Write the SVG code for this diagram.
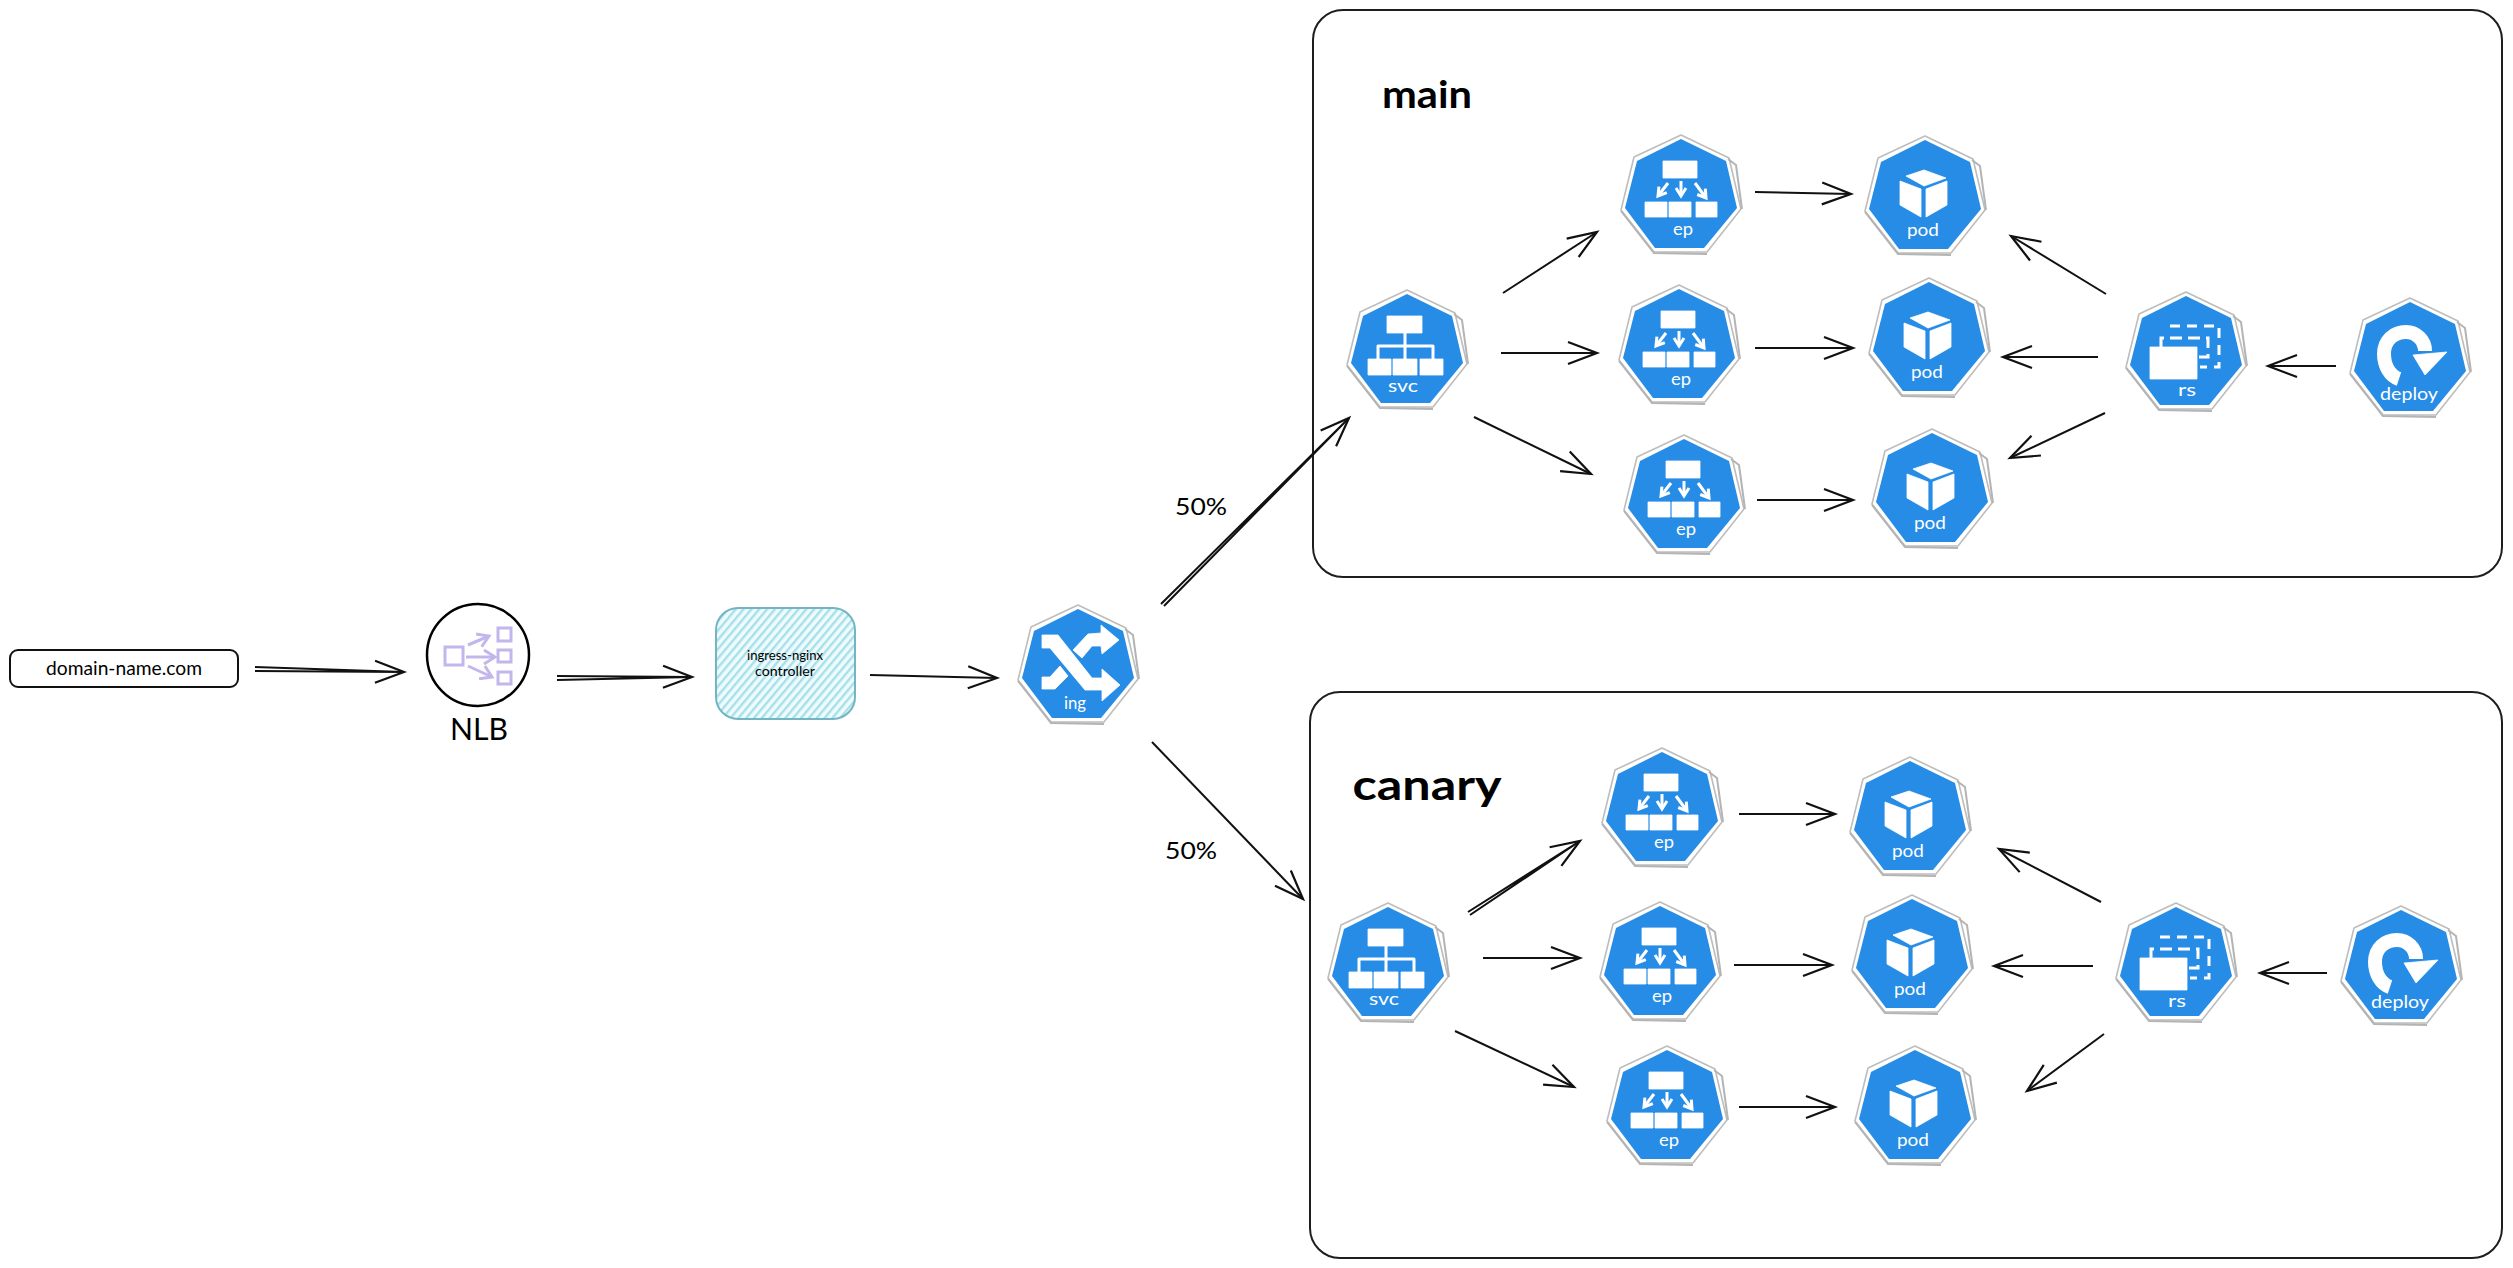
<svg xmlns="http://www.w3.org/2000/svg" xmlns:xlink="http://www.w3.org/1999/xlink" width="2513" height="1268" viewBox="0 0 2513 1268">
<style>
text{font-family:"Lato","Open Sans",sans-serif;text-anchor:middle}
.dark{fill:#000}
.lab{fill:#fff;font-size:18px}
.conn path{fill:none;stroke:#111;stroke-width:2;marker-end:url(#head)}
.box{fill:none;stroke:#1e1e1e;stroke-width:2}
.w{fill:#fff;stroke:#fff;stroke-width:.8;stroke-linejoin:round}
.wl{fill:none;stroke:#fff;stroke-width:3;stroke-linecap:round;stroke-linejoin:round}
.pur{fill:none;stroke:#c2b6ec;stroke-width:3}
</style>
<defs>
<marker id="head" markerUnits="userSpaceOnUse" markerWidth="40" markerHeight="40" viewBox="-32 -20 40 40" refX="0" refY="0" orient="auto">
<path d="M-29,-11 L0,0 L-29,11" fill="none" stroke="#111" stroke-width="2.2"/>
</marker>
<marker id="smallhead" markerUnits="userSpaceOnUse" markerWidth="16" markerHeight="16" viewBox="-12 -8 16 16" refX="0" refY="0" orient="auto">
<path d="M-8,-5 L0,0 L-8,5" fill="none" stroke="#fff" stroke-width="3"/>
</marker>
<marker id="pur" markerUnits="userSpaceOnUse" markerWidth="20" markerHeight="20" viewBox="-14 -10 20 20" refX="0" refY="0" orient="auto">
<path d="M-11,-7 L0,0 L-11,7" fill="none" stroke="#c2b6ec" stroke-width="3"/>
</marker>
<pattern id="hatch" patternUnits="userSpaceOnUse" width="6" height="6" patternTransform="rotate(-50)">
<rect width="6" height="6" fill="#f0fbfd"/>
<rect width="6" height="2.4" fill="#a6e0ea"/>
</pattern>
<g id="hept">
<path d="M0,-60 L48,-37 L60,14 L26,57 L-27,57 L-60,15 L-47,-38Z" fill="#fff" stroke="#bdbdbd" stroke-width="1.6" stroke-linejoin="round"/>
<path d="M47,-36 L55,-30 L61,14 M-60,16 L-27,58 L26,59" fill="none" stroke="#b4b4b4" stroke-width="2"/>
<path d="M0,-56 L45,-34 L56,13 L23,53 L-26,53 L-56,13 L-44,-34Z" fill="#268ce6"/>
</g>
<g id="i-svc">
<rect class="w" x="-20" y="-34" width="35" height="17"/>
<path class="wl" d="M-2,-17 V10 M-29,10 V-4 H26 V10"/>
<rect class="w" x="-39" y="9" width="23" height="16"/>
<rect class="w" x="-14" y="9" width="24" height="16"/>
<rect class="w" x="13" y="9" width="23" height="16"/>
</g>
<g id="i-ep">
<rect class="w" x="-18" y="-34" width="34" height="17"/>
<path d="M-13,-12 L-23,1" fill="none" stroke="#fff" stroke-width="3" marker-end="url(#smallhead)"/>
<path d="M0,-14 V1" fill="none" stroke="#fff" stroke-width="3" marker-end="url(#smallhead)"/>
<path d="M14,-12 L25,3" fill="none" stroke="#fff" stroke-width="3" marker-end="url(#smallhead)"/>
<rect class="w" x="-36" y="7" width="22" height="15"/>
<rect class="w" x="-12" y="7" width="22" height="15"/>
<rect class="w" x="15" y="7" width="21" height="15"/>
</g>
<g id="i-pod">
<path class="w" d="M-19,-20 L-1,-26 L21,-18 L-1,-10Z"/>
<path class="w" d="M-25,-15 L-4,-7 L-4,21 L-25,9Z"/>
<path class="w" d="M1,-7 L22,-15 L22,9 L1,21Z"/>
</g>
<g id="i-rs">
<path d="M-16,-26 H33 V15 H14" fill="none" stroke="#fff" stroke-width="3" stroke-dasharray="10 7"/>
<path d="M-25,-5 V-14 H22 V5 H12" fill="none" stroke="#fff" stroke-width="3" stroke-dasharray="12 6"/>
<rect class="w" x="-36" y="-5" width="47" height="32"/>
</g>
<g id="i-deploy">
<path d="M-11,25 C-26,22 -33,10 -33,-4 C-33,-22 -20,-32 -4,-32 C8,-32 20,-22 18,-6" fill="none" stroke="none"/>
<path d="M-11,21 C-20,18 -26,8 -26,-4 C-26,-18 -16,-26 -4,-26 C6,-26 15,-18 15,-7" fill="none" stroke="#fff" stroke-width="14"/>
<path class="w" d="M3,-3 L37,-6 L15,17Z"/>
</g>
<g id="i-ing">
<path class="w" d="M-36,-30 L-20,-30 L14,13 L24,13 L24,4 L42,20 L24,36 L24,25 L7,25 L-28,-17 L-36,-17Z"/>
<path class="w" d="M-36,12 L-28,12 L-18,1 L-10,11 L-23,24 L-36,24Z"/>
<path class="w" d="M-5,-15 L10,-31 L23,-32 L23,-40 L41,-25 L24,-11 L23,-19 L14,-19 L4,-7Z"/>
</g>
</defs>

<rect width="2513" height="1268" fill="#fff"/>

<g id="group-main"><rect class="box" x="1313" y="10" width="1189" height="567" rx="30"/><text class="dark" x="1427" y="108" font-size="38" font-weight="700" textLength="90" lengthAdjust="spacingAndGlyphs">main</text></g>
<g id="group-canary"><rect class="box" x="1310" y="692" width="1192" height="566" rx="30"/><text class="dark" x="1427" y="800" font-size="42" font-weight="700" textLength="149" lengthAdjust="spacingAndGlyphs">canary</text></g>

<g id="connectors" class="conn">
<path d="M255,667 L404,672 M255,671 L404,672"/>
<path d="M557,680 L692,677 M557,676 L692,677"/>
<path d="M870,675 L997,678"/>
<path d="M1164,606 L1349,418 M1161,604 L1349,418"/>
<path d="M1152,742 L1303,899"/>
<path d="M1503,293 L1597,232"/>
<path d="M1501,353 L1597,353"/>
<path d="M1474,417 L1591,474"/>
<path d="M1755,192 L1851,194"/>
<path d="M1755,348 L1853,348"/>
<path d="M1757,500 L1853,500"/>
<path d="M2106,294 L2011,236"/>
<path d="M2098,357 L2003,357"/>
<path d="M2105,413 L2010,458"/>
<path d="M2336,366 L2268,366"/>
<path d="M1470,915 L1580,841 M1468,912 L1580,841"/>
<path d="M1483,958 L1580,958"/>
<path d="M1455,1031 L1574,1087"/>
<path d="M1739,814 L1835,814"/>
<path d="M1734,965 L1832,965"/>
<path d="M1739,1107 L1835,1107"/>
<path d="M2101,902 L1999,849"/>
<path d="M2093,966 L1994,966"/>
<path d="M2104,1034 L2027,1091"/>
<path d="M2327,973 L2260,973"/>
</g>

<g id="label-50-main"><text class="dark" x="1201" y="515" font-size="24" textLength="52" lengthAdjust="spacingAndGlyphs">50%</text></g>
<g id="label-50-canary"><text class="dark" x="1191" y="859" font-size="24" textLength="52" lengthAdjust="spacingAndGlyphs">50%</text></g>

<g id="domain"><rect x="10" y="650" width="228" height="37" rx="8" fill="#fff" stroke="#111" stroke-width="2"/><text class="dark" x="124" y="675" font-size="19" textLength="156" lengthAdjust="spacingAndGlyphs">domain-name.com</text></g>

<g id="nlb">
<circle cx="478" cy="655" r="51" fill="#fff" stroke="#000" stroke-width="2.5"/>
<rect class="pur" x="445" y="647" width="18" height="18"/>
<rect class="pur" x="498" y="628" width="13" height="13"/>
<rect class="pur" x="498" y="650" width="13" height="12"/>
<rect class="pur" x="498" y="672" width="13" height="12"/>
<path class="pur" d="M468,645 L489,636" marker-end="url(#pur)"/>
<path class="pur" d="M466,657 L495,657" marker-end="url(#pur)"/>
<path class="pur" d="M468,666 L492,677" marker-end="url(#pur)"/>
<text class="dark" x="479" y="740" font-size="31" textLength="58" lengthAdjust="spacingAndGlyphs">NLB</text>
</g>

<g id="ingress"><rect x="716" y="608" width="139" height="111" rx="22" fill="url(#hatch)" stroke="#74b5c3" stroke-width="2"/><text class="dark" x="785" y="660" font-size="14" textLength="76" lengthAdjust="spacingAndGlyphs">ingress-nginx</text><text class="dark" x="785" y="676" font-size="14" textLength="60" lengthAdjust="spacingAndGlyphs">controller</text></g>

<g id="ing" transform="translate(1078,665)"><use href="#hept"/><use href="#i-ing"/><text class="lab" x="-3" y="44" textLength="22" lengthAdjust="spacingAndGlyphs">ing</text></g>

<g id="main-svc" transform="translate(1407,350)"><use href="#hept"/><use href="#i-svc"/><text class="lab" x="-4" y="42" textLength="30" lengthAdjust="spacingAndGlyphs">svc</text></g>
<g id="main-ep1" transform="translate(1681,195)"><use href="#hept"/><use href="#i-ep"/><text class="lab" x="2" y="40" textLength="20" lengthAdjust="spacingAndGlyphs">ep</text></g>
<g id="main-ep2" transform="translate(1679,345)"><use href="#hept"/><use href="#i-ep"/><text class="lab" x="2" y="40" textLength="20" lengthAdjust="spacingAndGlyphs">ep</text></g>
<g id="main-ep3" transform="translate(1684,495)"><use href="#hept"/><use href="#i-ep"/><text class="lab" x="2" y="40" textLength="20" lengthAdjust="spacingAndGlyphs">ep</text></g>
<g id="main-pod1" transform="translate(1925,196)"><use href="#hept"/><use href="#i-pod"/><text class="lab" x="-2" y="40" textLength="32" lengthAdjust="spacingAndGlyphs">pod</text></g>
<g id="main-pod2" transform="translate(1929,338)"><use href="#hept"/><use href="#i-pod"/><text class="lab" x="-2" y="40" textLength="32" lengthAdjust="spacingAndGlyphs">pod</text></g>
<g id="main-pod3" transform="translate(1932,489)"><use href="#hept"/><use href="#i-pod"/><text class="lab" x="-2" y="40" textLength="32" lengthAdjust="spacingAndGlyphs">pod</text></g>
<g id="main-rs" transform="translate(2186,352)"><use href="#hept"/><use href="#i-rs"/><text class="lab" x="1" y="44" textLength="18" lengthAdjust="spacingAndGlyphs">rs</text></g>
<g id="main-deploy" transform="translate(2410,358)"><use href="#hept"/><use href="#i-deploy"/><text class="lab" x="-1" y="42" textLength="58" lengthAdjust="spacingAndGlyphs">deploy</text></g>

<g id="canary-svc" transform="translate(1388,963)"><use href="#hept"/><use href="#i-svc"/><text class="lab" x="-4" y="42" textLength="30" lengthAdjust="spacingAndGlyphs">svc</text></g>
<g id="canary-ep1" transform="translate(1662,808)"><use href="#hept"/><use href="#i-ep"/><text class="lab" x="2" y="40" textLength="20" lengthAdjust="spacingAndGlyphs">ep</text></g>
<g id="canary-ep2" transform="translate(1660,962)"><use href="#hept"/><use href="#i-ep"/><text class="lab" x="2" y="40" textLength="20" lengthAdjust="spacingAndGlyphs">ep</text></g>
<g id="canary-ep3" transform="translate(1667,1106)"><use href="#hept"/><use href="#i-ep"/><text class="lab" x="2" y="40" textLength="20" lengthAdjust="spacingAndGlyphs">ep</text></g>
<g id="canary-pod1" transform="translate(1910,817)"><use href="#hept"/><use href="#i-pod"/><text class="lab" x="-2" y="40" textLength="32" lengthAdjust="spacingAndGlyphs">pod</text></g>
<g id="canary-pod2" transform="translate(1912,955)"><use href="#hept"/><use href="#i-pod"/><text class="lab" x="-2" y="40" textLength="32" lengthAdjust="spacingAndGlyphs">pod</text></g>
<g id="canary-pod3" transform="translate(1915,1106)"><use href="#hept"/><use href="#i-pod"/><text class="lab" x="-2" y="40" textLength="32" lengthAdjust="spacingAndGlyphs">pod</text></g>
<g id="canary-rs" transform="translate(2176,963)"><use href="#hept"/><use href="#i-rs"/><text class="lab" x="1" y="44" textLength="18" lengthAdjust="spacingAndGlyphs">rs</text></g>
<g id="canary-deploy" transform="translate(2401,966)"><use href="#hept"/><use href="#i-deploy"/><text class="lab" x="-1" y="42" textLength="58" lengthAdjust="spacingAndGlyphs">deploy</text></g>
</svg>
